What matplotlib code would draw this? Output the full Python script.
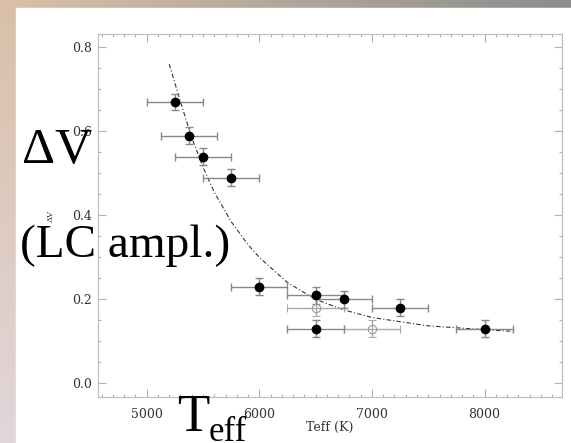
import numpy as np
import matplotlib.pyplot as plt
from matplotlib.patches import Rectangle

# measured points (filled symbols)
teff = [5250, 5375, 5500, 5750, 6000, 6500, 6750, 7250, 6500, 8000]
dv = [0.67, 0.59, 0.54, 0.49, 0.23, 0.21, 0.20, 0.18, 0.13, 0.13]
teff_err = [250, 250, 250, 250, 250, 250, 250, 250, 250, 250]
dv_err = [0.02, 0.02, 0.02, 0.02, 0.02, 0.02, 0.02, 0.02, 0.02, 0.02]

# open symbols
teff_open = [6500, 7000]
dv_open = [0.18, 0.13]
teff_open_err = [250, 250]
dv_open_err = [0.02, 0.02]

# fitted curve
teff_fit = [5200, 5300, 5400, 5500, 5600, 5750, 5900, 6000, 6250, 6500, 6750, 7000, 7500, 8000, 8250]
dv_fit = [0.76, 0.67, 0.585, 0.515, 0.455, 0.385, 0.33, 0.30, 0.24, 0.20, 0.175, 0.157, 0.137, 0.128, 0.124]

W, H = 571, 443
fig = plt.figure(figsize=(W / 100, H / 100), dpi=100)

# slide background (warm nebula-ish gradient) and white panel
bg = fig.add_axes([0, 0, 1, 1])
bg.set_axis_off()
tl = np.array([218, 192, 168]) / 255
tr = np.array([140, 142, 142]) / 255
bl = np.array([226, 214, 218]) / 255
br = np.array([205, 200, 205]) / 255
u = np.linspace(0, 1, 60)[None, :, None]
v = np.linspace(0, 1, 60)[:, None, None]
img = (1 - v) * ((1 - u) * tl + u * tr) + v * ((1 - u) * bl + u * br)
bg.imshow(img, extent=[0, 1, 0, 1], aspect='auto', origin='upper')
bg.add_patch(Rectangle((16 / W, 0), 1, 1 - 7.5 / H, color='white', zorder=2))
bg.set_xlim(0, 1)
bg.set_ylim(0, 1)

ax = fig.add_axes([97.6 / W, 1 - 397.3 / H, (562.3 - 97.6) / W, (397.3 - 34.3) / H])
ax.set_facecolor('white')

ax.plot(teff_fit, dv_fit, color='#333333', lw=0.8, dashes=(4, 2, 1, 2))

ax.errorbar(teff_open, dv_open, xerr=teff_open_err, yerr=dv_open_err, fmt='o',
            mfc='none', mec='#999999', mew=0.8, ms=6, ecolor='#aaaaaa',
            elinewidth=1, capsize=3, capthick=1)
ax.errorbar(teff, dv, xerr=teff_err, yerr=dv_err, fmt='o', color='black', ms=6,
            ecolor='#888888', elinewidth=1, capsize=3, capthick=1)

ax.set_xlim(4564, 8690)
ax.set_ylim(-0.033, 0.831)
ax.set_xticks([5000, 6000, 7000, 8000])
ax.set_xticks(np.arange(4600, 8700, 100), minor=True)
ax.set_yticks([0.0, 0.2, 0.4, 0.6, 0.8])
ax.set_yticks(np.arange(0.0, 0.85, 0.05), minor=True)
ax.set_yticklabels(['0.0', '0.2', '0.4', '0.6', '0.8'])

for s in ax.spines.values():
    s.set_color('#c0c0c0')
    s.set_linewidth(0.9)
ax.tick_params(which='both', direction='in', top=True, right=True, color='#b0b0b0',
               width=0.8, labelcolor='#333333')
ax.tick_params(which='major', length=6)
ax.tick_params(which='minor', length=2.5)
ax.tick_params(axis='y', pad=4)
ax.tick_params(axis='x', pad=8)
for lab in ax.get_xticklabels() + ax.get_yticklabels():
    lab.set_family('DejaVu Serif')
    lab.set_fontsize(9)

ax.set_xlabel('Teff (K)', family='DejaVu Serif', fontsize=9, color='#333333')
ax.xaxis.set_label_coords(0.5, -0.065)
ax.set_ylabel('ΔV', family='DejaVu Serif', fontsize=6, color='#333333')
ax.yaxis.set_label_coords(-0.093, 0.5)

# big slide annotations overlaid on the plot
big = dict(family='Liberation Serif', color='black', va='baseline', ha='left', zorder=10)
fig.text(22 / W, 1 - 162.7 / H, 'ΔV', fontsize=37, **big)
fig.text(20 / W, 1 - 257 / H, '(LC ampl.)', fontsize=34, **big)
fig.text(177 / W, 1 - 431 / H, 'T', fontsize=38, **big)
fig.text(209 / W, 1 - 441 / H, 'eff', fontsize=25, **big)

fig.savefig('out.png', dpi=100)
